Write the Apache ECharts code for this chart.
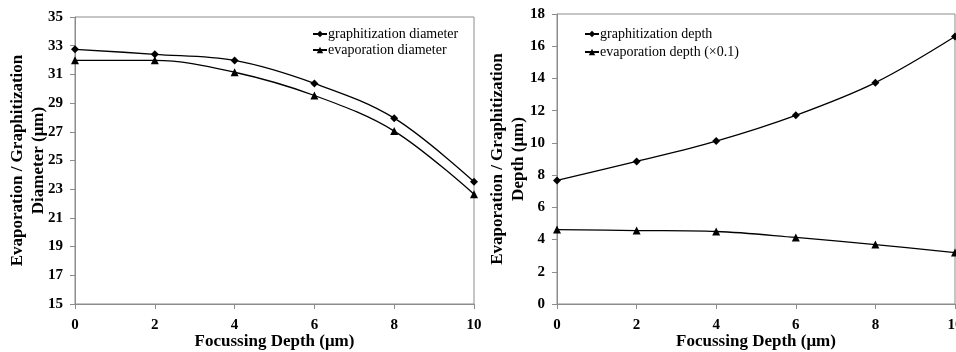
<!DOCTYPE html>
<html><head><meta charset="utf-8">
<script src="https://cdn.jsdelivr.net/npm/echarts@6/dist/echarts.min.js"></script>
<style>html,body{margin:0;padding:0;background:#fff}#c{width:956px;height:352px}</style>
</head><body><div id="c"></div>
<script>
const depthX = [0, 2, 4, 6, 8, 10];
const graphDiameter = [32.75, 32.4, 31.97, 30.37, 27.95, 23.52];
const evapDiameter = [31.98, 31.98, 31.15, 29.53, 27.05, 22.65];
const graphDepth = [7.67, 8.85, 10.11, 11.71, 13.74, 16.6];
const evapDepth = [4.62, 4.56, 4.5, 4.13, 3.69, 3.19];
const leftYTicks = [15, 17, 19, 21, 23, 25, 27, 29, 31, 33, 35];
const rightYTicks = [0, 2, 4, 6, 8, 10, 12, 14, 16, 18];

const serif = '"Liberation Serif", "Times New Roman", serif';
const pair = (xs, ys) => xs.map((x, i) => [x, ys[i]]);
const axisLine = { show: true, lineStyle: { color: '#8c8c8c', width: 1 } };
const axisTick = { show: true, inside: false, length: 5, lineStyle: { color: '#8c8c8c' } };
const tickLabel = { color: '#000', fontFamily: serif, fontWeight: 'bold', fontSize: 15 };
const xNameStyle = { color: '#000', fontFamily: serif, fontWeight: 'bold', fontSize: 17 };
const yNameStyle = { color: '#000', fontFamily: serif, fontWeight: 'bold', fontSize: 17, lineHeight: 21 };

function xAxis(gi) {
  return {
    type: 'value', gridIndex: gi, min: 0, max: 10, interval: 2,
    name: 'Focussing Depth (μm)', nameLocation: 'middle', nameGap: 29, nameMoveOverlap: false,
    nameTextStyle: xNameStyle, axisLine, axisTick, splitLine: { show: false },
    axisLabel: Object.assign({ margin: 14 }, tickLabel)
  };
}
function yAxis(gi, ticks, name, gap) {
  return {
    type: 'value', gridIndex: gi, min: ticks[0], max: ticks[ticks.length - 1],
    interval: ticks[1] - ticks[0],
    name, nameLocation: 'middle', nameGap: gap, nameRotate: 90, nameMoveOverlap: false,
    nameTextStyle: yNameStyle, axisLine, axisTick, splitLine: { show: false },
    axisLabel: Object.assign({ margin: 12 }, tickLabel)
  };
}
function line(name, data, symbol, xi, size) {
  return {
    type: 'line', name, data, xAxisIndex: xi, yAxisIndex: xi, smooth: 0.35,
    symbol, symbolSize: size, showSymbol: true,
    lineStyle: { color: '#000', width: 1.3 }, itemStyle: { color: '#000' },
    emphasis: { disabled: true }, animation: false
  };
}

const chart = echarts.init(document.getElementById('c'), null, { renderer: 'canvas' });
chart.setOption({
  backgroundColor: '#fff',
  animation: false,
  grid: [
    { left: 75, right: 482, top: 17, bottom: 48, show: true, borderColor: '#8c8c8c', borderWidth: 1, backgroundColor: 'transparent', outerBoundsMode: 'none', containLabel: false },
    { left: 557, right: 1, top: 14, bottom: 48, show: true, borderColor: '#8c8c8c', borderWidth: 1, backgroundColor: 'transparent', outerBoundsMode: 'none', containLabel: false }
  ],
  xAxis: [xAxis(0), xAxis(1)],
  yAxis: [
    yAxis(0, leftYTicks, 'Evaporation / Graphitization\nDiameter (μm)', 26),
    yAxis(1, rightYTicks, 'Evaporation / Graphitization\nDepth (μm)', 28)
  ],
  legend: [
    { data: ['graphitization diameter', 'evaporation diameter'], orient: 'vertical', left: 312, top: 27,
      itemWidth: 14, itemHeight: 8, itemGap: 2, padding: 0,
      textStyle: { fontFamily: serif, fontSize: 14, color: '#000', padding: [0, 0, 0, -4] } },
    { data: ['graphitization depth', 'evaporation depth (×0.1)'], orient: 'vertical', left: 584, top: 27,
      itemWidth: 14, itemHeight: 8, itemGap: 4, padding: 0,
      textStyle: { fontFamily: serif, fontSize: 14, color: '#000', padding: [0, 0, 0, -4] } }
  ],
  series: [
    line('graphitization diameter', pair(depthX, graphDiameter), 'diamond', 0, 8),
    line('evaporation diameter', pair(depthX, evapDiameter), 'triangle', 0, 8),
    line('graphitization depth', pair(depthX, graphDepth), 'diamond', 1, 8),
    line('evaporation depth (×0.1)', pair(depthX, evapDepth), 'triangle', 1, 8)
  ]
});
</script></body></html>
